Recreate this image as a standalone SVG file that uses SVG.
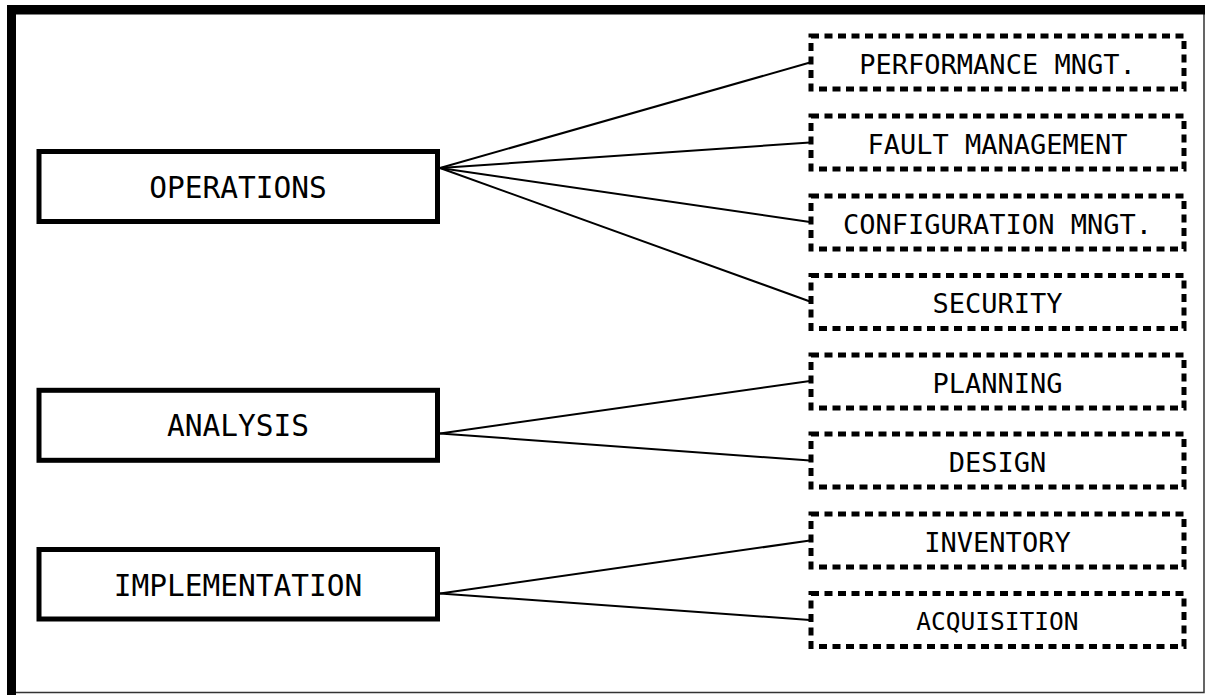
<svg xmlns="http://www.w3.org/2000/svg" width="1207" height="695" viewBox="0 0 1207 695">
<defs>
<style>
.main rect{fill:#fff;stroke:#000;stroke-width:5}
.sub rect{fill:#fff;stroke:#000;stroke-width:5;stroke-dasharray:8 5.5}
text{font-family:"DejaVu Sans Mono","Liberation Mono",monospace;fill:#000;text-anchor:middle}
.main text{font-size:29.5px}
.sub text{font-size:27px}
#connectors line{stroke:#000;stroke-width:2}
</style>
</defs>
<rect x="0" y="0" width="1207" height="695" fill="#fff"/>
<g id="frame">
<path d="M11.5 10 H1204 V692.5 H11.5" fill="none" stroke="#333" stroke-width="1.5"/>
<rect x="7" y="5" width="9" height="690" fill="#000"/>
<rect x="7" y="5" width="1198" height="9.5" fill="#000"/>
</g>
<g id="connectors">
<line x1="440" y1="168" x2="810" y2="62.5"/>
<line x1="440" y1="168" x2="810" y2="142.5"/>
<line x1="440" y1="168" x2="810" y2="222"/>
<line x1="440" y1="168" x2="810" y2="301.5"/>
<line x1="440" y1="433.5" x2="810" y2="381"/>
<line x1="440" y1="433.5" x2="810" y2="460.5"/>
<line x1="440" y1="593.5" x2="810" y2="540.5"/>
<line x1="440" y1="593.5" x2="810" y2="620"/>
</g>
<g id="operations" class="main"><rect x="39" y="151.5" width="398.5" height="70"/><text x="238" y="197.5">OPERATIONS</text></g>
<g id="analysis" class="main"><rect x="39" y="390.3" width="398.5" height="70"/><text x="238" y="436">ANALYSIS</text></g>
<g id="implementation" class="main"><rect x="39" y="549.5" width="398.5" height="69.5"/><text x="238" y="596">IMPLEMENTATION</text></g>
<g id="performance" class="sub"><rect x="811" y="36" width="373" height="53"/><text x="997.5" y="74">PERFORMANCE MNGT.</text></g>
<g id="fault" class="sub"><rect x="811" y="116" width="373" height="53"/><text x="997.5" y="153.5">FAULT MANAGEMENT</text></g>
<g id="configuration" class="sub"><rect x="811" y="196" width="373" height="53"/><text x="997.5" y="233.5">CONFIGURATION MNGT.</text></g>
<g id="security" class="sub"><rect x="811" y="275.5" width="373" height="53"/><text x="997.5" y="313">SECURITY</text></g>
<g id="planning" class="sub"><rect x="811" y="355" width="373" height="53"/><text x="997.5" y="392.5">PLANNING</text></g>
<g id="design" class="sub"><rect x="811" y="434" width="373" height="53"/><text x="997.5" y="472">DESIGN</text></g>
<g id="inventory" class="sub"><rect x="811" y="514" width="373" height="53"/><text x="997.5" y="551.5">INVENTORY</text></g>
<g id="acquisition" class="sub"><rect x="811" y="593.5" width="373" height="53"/><text x="997.5" y="629.5" style="font-size:24.5px">ACQUISITION</text></g>
</svg>
